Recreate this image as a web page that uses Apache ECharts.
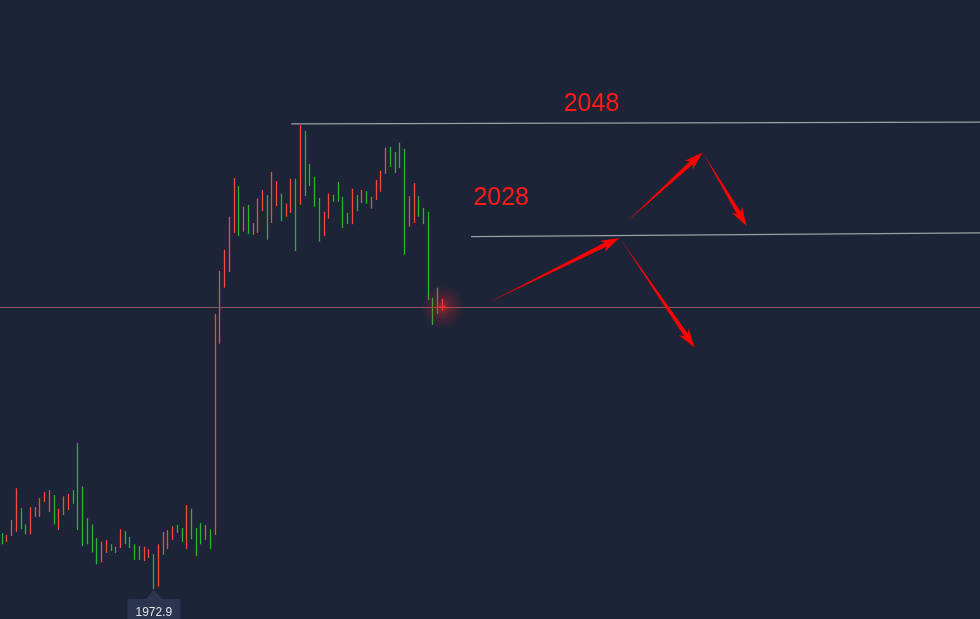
<!DOCTYPE html>
<html>
<head>
<meta charset="utf-8">
<script src="https://cdn.jsdelivr.net/npm/echarts@6/dist/echarts.min.js"></script>
<style>
html,body{margin:0;padding:0;background:#1d2437;}
#chart{width:980px;height:619px;}
</style>
</head>
<body>
<div id="chart"></div>
<script>
// ---- data ----
const categories = Array.from({length: 207}, (_, i) => String(i + 1));
const directions = ['G','R','R','R','G','G','R','R','R','R',
  'R','G','R','R','R','G','G','G','G','G',
  'G','R','R','G','G','R','G','G','G','G',
  'R','R','G','R','R','R','R','G','G','R',
  'G','G','G','R','G','R','R','R','R','R',
  'G','R','G','R','R','R','G','R','R','G',
  'R','R','G','R','G','G','G','G','R','R',
  'G','G','G','G','R','G','R','G','R','R',
  'R','R','G','G','G','G','R','R','G','G',
  'G','G','G','R'];
const highs = [1981.9,1981.6,1984.0,1989.1,1985.9,1983.3,1986.1,1986.1,1987.5,1988.5,
  1988.8,1988.0,1985.8,1987.8,1988.2,1988.8,1996.4,1989.4,1984.3,1983.3,
  1981.1,1980.5,1980.8,1980.1,1979.7,1982.5,1982.2,1981.3,1980.1,1979.8,
  1979.7,1979.3,1978.5,1980.1,1982.1,1982.4,1983.0,1983.2,1982.7,1986.4,
  1985.8,1982.7,1983.5,1983.2,1982.5,2017.1,2024.0,2027.4,2032.7,2038.9,
  2037.6,2034.3,2034.6,2031.7,2035.6,2037.0,2036.2,2039.9,2038.4,2036.4,
  2034.8,2038.8,2038.8,2047.4,2046.5,2041.2,2039.1,2035.7,2033.5,2036.4,
  2036.2,2038.3,2035.9,2033.3,2037.2,2036.2,2037.0,2036.8,2035.9,2038.6,
  2040.1,2043.8,2043.9,2043.1,2044.6,2043.6,2036.0,2038.1,2036.0,2034.1,
  2033.5,2019.7,2021.3,2019.5];
const lows = [1980.1,1980.5,1981.4,1982.1,1982.5,1981.7,1981.7,1984.5,1984.5,1986.9,
  1985.3,1983.3,1982.4,1984.8,1985.6,1986.6,1982.4,1979.8,1980.1,1978.8,
  1976.9,1977.2,1978.7,1979.0,1978.7,1979.5,1980.1,1979.5,1977.6,1977.6,
  1977.4,1977.9,1972.9,1973.3,1978.4,1979.3,1980.8,1981.9,1980.5,1979.3,
  1980.9,1978.2,1980.1,1980.8,1979.3,1981.6,2012.3,2021.3,2023.8,2030.1,
  2029.6,2030.3,2029.9,2029.8,2030.1,2033.6,2029.0,2031.7,2034.4,2032.0,
  2032.7,2033.3,2027.2,2034.6,2036.0,2037.6,2034.3,2028.7,2029.6,2032.4,
  2035.1,2035.1,2030.9,2031.5,2031.5,2033.6,2034.9,2034.8,2034.0,2035.4,
  2036.7,2039.6,2040.7,2039.7,2040.5,2026.6,2031.1,2031.7,2032.7,2031.5,
  2019.3,2015.3,2017.1,2017.6];
const currentPrice = 2018.2;
const lastIndex = 93;
const lowLabel = '1972.9';
const lowIndex = 32;
const resistance2048 = [[61, 2047.6], [206.5, 2047.9]];
const resistance2028 = [[99, 2029.5], [206.5, 2030.1]];
const levelLabels = ['2048', '2028'];
const arrows = [
  [[102.6, 2018.9], [130.3, 2029.3]],
  [[131.9, 2031.9], [147.9, 2043.0]],
  [[148.1, 2042.8], [157.2, 2031.2]],
  [[130.6, 2029.1], [146.2, 2011.7]]
];

// ---- build ----
const candleData = highs.map((h, i) => {
  const l = lows[i];
  return directions[i] === 'R' ? [l, h, l, h] : [h, l, l, h];
});

const chart = echarts.init(document.getElementById('chart'), null, {renderer: 'canvas'});
const RED = '#ef4b3e', GREEN = '#2bb32e';

chart.setOption({
  backgroundColor: '#1d2437',
  animation: false,
  grid: {left: 0, right: 0, top: 0, bottom: 0},
  xAxis: [
    {type: 'category', data: categories, show: false, boundaryGap: true},
    {type: 'value', min: -0.5, max: 206.5, show: false}
  ],
  yAxis: {type: 'value', min: 1968.1, max: 2067.5, show: false, splitLine: {show: false}, scale: true},
  series: [
    {
      type: 'line', xAxisIndex: 1, data: [], silent: true,
      markLine: {
        silent: true, symbol: ['none', 'none'], label: {show: false},
        lineStyle: {color: '#9ca0a8', width: 1.3, type: 'solid'},
        emphasis: {disabled: true},
        data: [
          [{coord: resistance2048[0]}, {coord: resistance2048[1]}],
          [{coord: resistance2028[0]}, {coord: resistance2028[1]}],
          {yAxis: currentPrice, lineStyle: {color: '#8a5860', width: 1, type: 'solid'}}
        ]
      }
    },
    {
      type: 'candlestick', xAxisIndex: 0, data: candleData, barWidth: 1,
      itemStyle: {color: RED, color0: GREEN, borderColor: RED, borderColor0: GREEN, borderWidth: 1.3}
    },
    {
      type: 'scatter', xAxisIndex: 1, silent: true, symbolSize: 44, z: 5,
      data: [[lastIndex, currentPrice]],
      itemStyle: {color: {type: 'radial', x: 0.5, y: 0.5, r: 0.5, colorStops: [
        {offset: 0, color: 'rgba(255,30,30,0.75)'},
        {offset: 0.35, color: 'rgba(225,35,45,0.35)'},
        {offset: 1, color: 'rgba(200,30,40,0)'}]}}
    },
    {
      type: 'scatter', xAxisIndex: 1, silent: true, symbol: 'rect', symbolSize: [7, 2], z: 6,
      data: [[lastIndex, currentPrice]],
      itemStyle: {color: '#ff2a2a'}
    }
  ]
});

function arrowPolygon(p0, p1) {
  const dx = p1[0] - p0[0], dy = p1[1] - p0[1];
  const len = Math.sqrt(dx * dx + dy * dy);
  const ux = dx / len, uy = dy / len;
  const nx = -uy, ny = ux;
  const at = (d, w) => [p1[0] - ux * d + nx * w, p1[1] - uy * d + ny * w];
  return [p0, at(15, 2.2), at(19, 6), p1, at(19, -6), at(15, -2.2)];
}

const graphics = [];
arrows.forEach(a => {
  const s = chart.convertToPixel({xAxisIndex: 1, yAxisIndex: 0}, a[0]);
  const e = chart.convertToPixel({xAxisIndex: 1, yAxisIndex: 0}, a[1]);
  graphics.push({type: 'polygon', shape: {points: arrowPolygon(s, e)}, style: {fill: '#ff0000'}, z: 20});
});
graphics.push({type: 'text', x: 591.5, y: 104, style: {text: levelLabels[0], fill: '#ff1a1a', font: '25px "Liberation Sans", Arial, sans-serif', textAlign: 'center', textVerticalAlign: 'middle'}, z: 20});
graphics.push({type: 'text', x: 501.2, y: 198, style: {text: levelLabels[1], fill: '#ff1a1a', font: '25px "Liberation Sans", Arial, sans-serif', textAlign: 'center', textVerticalAlign: 'middle'}, z: 20});

const lp = chart.convertToPixel({xAxisIndex: 0, yAxisIndex: 0}, [lowIndex, 1972.9]);
const cx = lp[0], ty = lp[1];
graphics.push({type: 'polygon', shape: {points: [[cx, ty + 1], [cx - 8, ty + 10], [cx + 8, ty + 10]]}, style: {fill: '#2b3550'}, z: 20});
graphics.push({type: 'rect', shape: {x: cx - 26.5, y: ty + 10, width: 53, height: 30, r: 3}, style: {fill: '#2b3550'}, z: 20});
graphics.push({type: 'text', x: cx, y: ty + 24, style: {text: lowLabel, fill: '#dfe3ea', font: '12px "Liberation Sans", Arial, sans-serif', textAlign: 'center', textVerticalAlign: 'middle'}, z: 21});

chart.setOption({graphic: graphics});
</script>
</body>
</html>
